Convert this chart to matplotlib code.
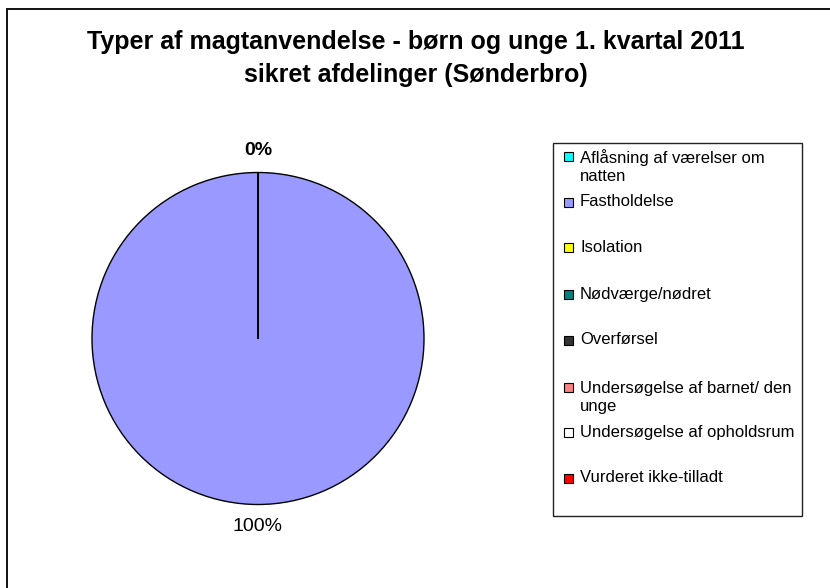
import matplotlib
matplotlib.use("Agg")
import matplotlib.pyplot as plt
from matplotlib.patches import Rectangle

plt.rcParams['font.family'] = ['Liberation Sans', 'DejaVu Sans']

# ---- data ----
categories = [
    "Aflåsning af værelser om\nnatten",
    "Fastholdelse",
    "Isolation",
    "Nødværge/nødret",
    "Overførsel",
    "Undersøgelse af barnet/ den\nunge",
    "Undersøgelse af opholdsrum",
    "Vurderet ikke-tilladt",
]
values = [0, 100, 0, 0, 0, 0, 0, 0]
colors = ["#00FFFF", "#9999FF", "#FFFF00", "#008080", "#333333",
          "#FF8080", "#FFFFFF", "#FF0000"]
title_lines = ["Typer af magtanvendelse - børn og unge 1. kvartal 2011",
               "sikret afdelinger (Sønderbro)"]

W, H = 830, 588
fig = plt.figure(figsize=(W / 100, H / 100), dpi=100)
fig.patch.set_facecolor("white")


def fx(x):
    return x / W


def fy(y):
    return 1 - y / H


# outer chart border (extends beyond the image on right/bottom)
fig.add_artist(Rectangle((fx(7), fy(700)), fx(900), (700 - 9) / H,
                         transform=fig.transFigure, fill=False,
                         edgecolor="#111111", linewidth=1.4))

# title
fig.text(fx(416), fy(42), title_lines[0], ha="center", va="center",
         fontsize=18, fontweight="bold")
fig.text(fx(416), fy(75), title_lines[1], ha="center", va="center",
         fontsize=18, fontweight="bold")

# pie
cx, cy, r = 258, 338.5, 166
ax = fig.add_axes([fx(cx - r), fy(cy + r), 2 * r / W, 2 * r / H])
wedges, texts, autotexts = ax.pie(
    values, colors=colors, startangle=90, counterclock=False,
    autopct=lambda p: f"{p:.0f}%", pctdistance=1.135,
    wedgeprops=dict(edgecolor="black", linewidth=1.0),
    textprops=dict(fontsize=14))
seen_zero = False
for v, t in zip(values, autotexts):
    if v == 0:
        if seen_zero:
            t.set_visible(False)
        else:
            t.set_fontweight("bold")
            seen_zero = True
ax.set_xlim(-1, 1)
ax.set_ylim(-1, 1)
ax.set_aspect("equal")
ax.axis("off")

# legend (drawn manually to match layout)
fig.add_artist(Rectangle((fx(553), fy(516)), (802 - 553) / W, (516 - 143) / H,
                         transform=fig.transFigure, facecolor="white",
                         edgecolor="#222222", linewidth=1.0))
first_line_y = [156, 202, 247, 294, 340, 387, 432, 478]
for lab, col, y0 in zip(categories, colors, first_line_y):
    nlines = lab.count("\n") + 1
    ys = y0 + (nlines - 1) * 21 / 2
    fig.add_artist(Rectangle((fx(564), fy(y0 + 4.5)), 9 / W, 9 / H,
                             transform=fig.transFigure, facecolor=col,
                             edgecolor="black", linewidth=0.8))
    fig.text(fx(580), fy(ys), lab, ha="left", va="center", fontsize=12,
             linespacing=1.25)

fig.savefig("out.png", dpi=100)
